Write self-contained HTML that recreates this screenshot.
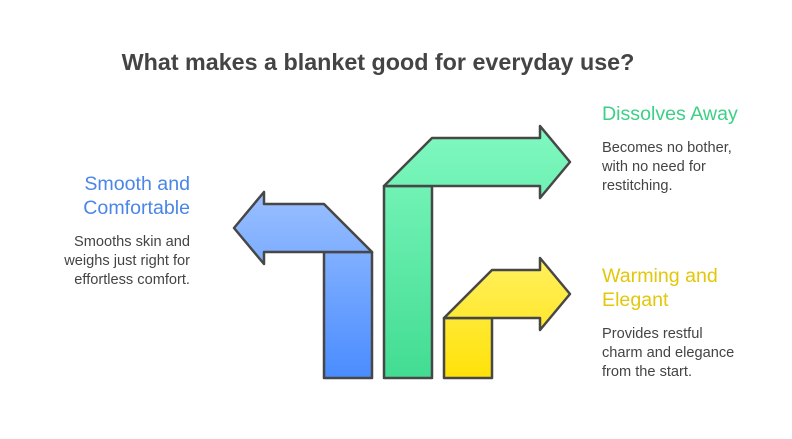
<!DOCTYPE html>
<html><head><style>
body{margin:0;width:792px;height:434px;background:#fff;overflow:hidden;font-family:"Liberation Sans",sans-serif}
</style></head><body>
<svg width="792" height="434" xmlns="http://www.w3.org/2000/svg" font-family="Liberation Sans, sans-serif">
<defs>
<linearGradient id="b" gradientUnits="userSpaceOnUse" x1="0" y1="192" x2="0" y2="378"><stop offset="0" stop-color="#9ac0ff"/><stop offset="1" stop-color="#4a8cff"/></linearGradient>
<linearGradient id="g" gradientUnits="userSpaceOnUse" x1="0" y1="126" x2="0" y2="378"><stop offset="0" stop-color="#80f9c0"/><stop offset="1" stop-color="#42dc92"/></linearGradient>
<linearGradient id="y" gradientUnits="userSpaceOnUse" x1="0" y1="258" x2="0" y2="378"><stop offset="0" stop-color="#fff060"/><stop offset="1" stop-color="#ffe208"/></linearGradient>
</defs>
<g stroke="#474747" stroke-width="2.5" stroke-linejoin="round">
<rect x="324" y="252" width="48" height="126" fill="url(#b)"/>
<polygon points="372,252 264,252 264,264 234,228 264,192 264,204 324,204" fill="url(#b)"/>
<rect x="384" y="186" width="48" height="192" fill="url(#g)"/>
<polygon points="384,186 432,138 540,138 540,126 570,162 540,198 540,186" fill="url(#g)"/>
<rect x="444" y="318" width="48" height="60" fill="url(#y)"/>
<polygon points="444,318 492,270 540,270 540,258 570,294 540,330 540,318" fill="url(#y)"/>
</g>
<text x="378" y="70" text-anchor="middle" font-size="23.3" font-weight="bold" fill="#444">What makes a blanket good for everyday use?</text>
<g font-size="19.6" fill="#4a86e8" text-anchor="end"><text x="190" y="190">Smooth and</text><text x="190" y="214">Comfortable</text></g>
<g font-size="14.6" fill="#444" text-anchor="end"><text x="190" y="246">Smooths skin and</text><text x="190" y="265">weighs just right for</text><text x="190" y="284">effortless comfort.</text></g>
<text x="602" y="120" font-size="19.6" fill="#3ecf86">Dissolves Away</text>
<g font-size="14.6" fill="#444"><text x="602" y="152">Becomes no bother,</text><text x="602" y="171">with no need for</text><text x="602" y="190">restitching.</text></g>
<g font-size="19.6" fill="#e2c70a"><text x="602" y="282">Warming and</text><text x="602" y="306">Elegant</text></g>
<g font-size="14.6" fill="#444"><text x="602" y="338">Provides restful</text><text x="602" y="357">charm and elegance</text><text x="602" y="376">from the start.</text></g>
</svg>
</body></html>
